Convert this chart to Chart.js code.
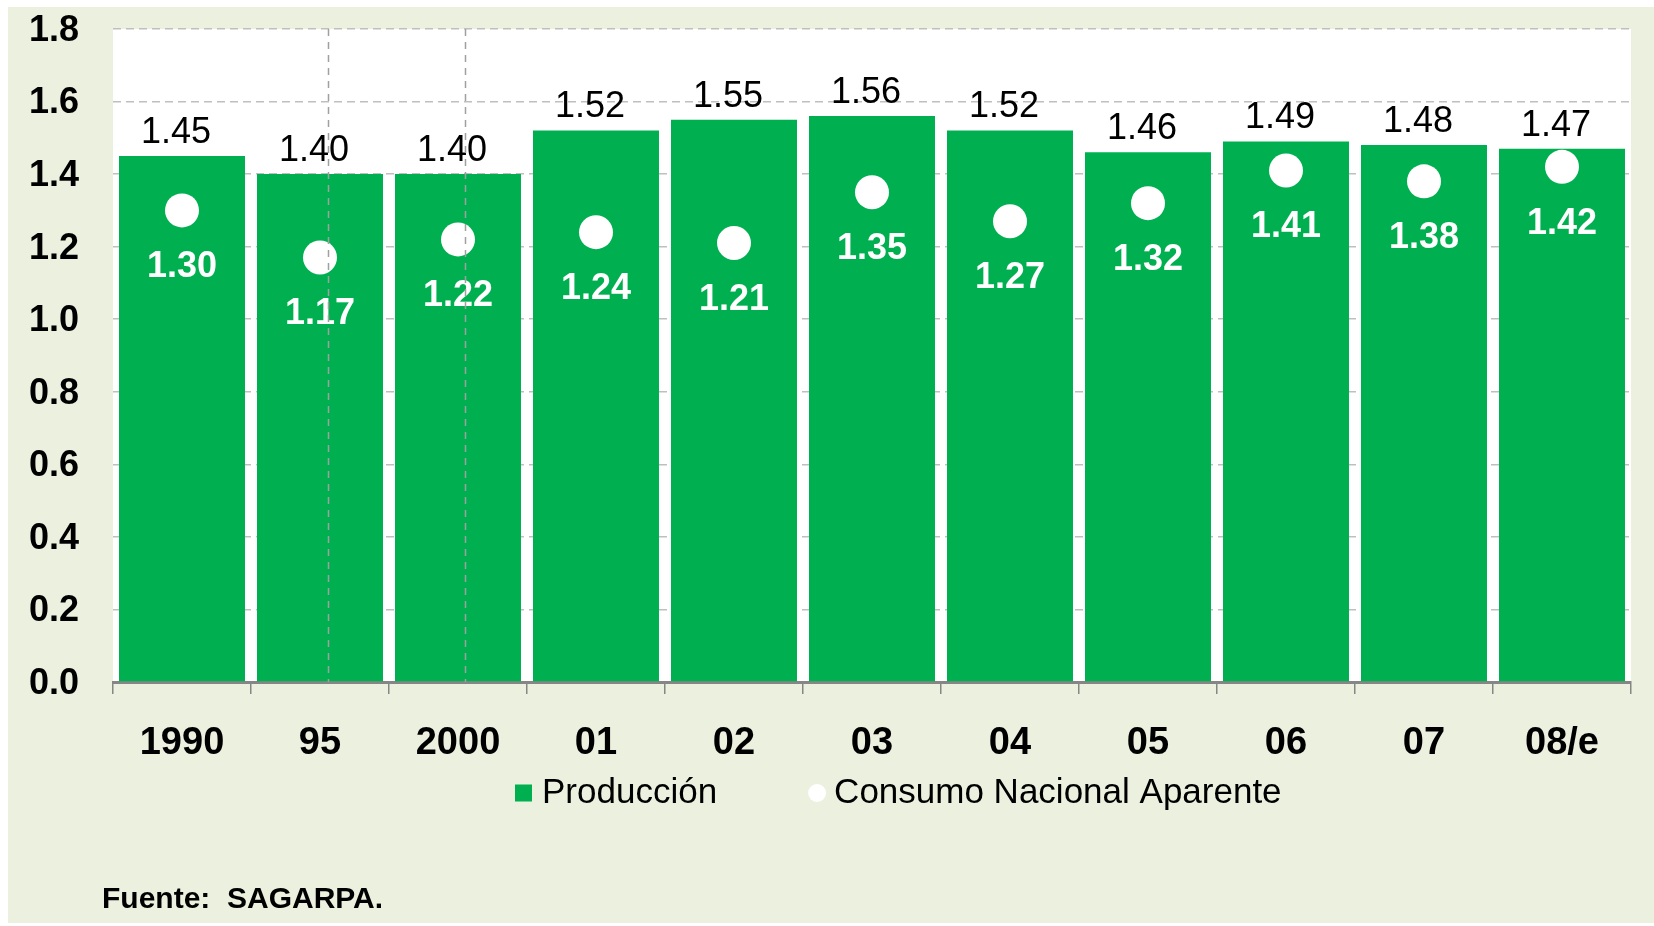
<!DOCTYPE html>
<html>
<head>
<meta charset="utf-8">
<script src="https://cdn.jsdelivr.net/npm/chart.js@4.4.0/dist/chart.umd.min.js"></script>
<style>
  html, body { margin: 0; padding: 0; background: #fff; }
  body { width: 1654px; height: 926px; position: relative; overflow: hidden; }
  #panel { position: absolute; left: 8px; top: 7px; right: 0; bottom: 3px; background: #EBF1DE; }
  #wrap { position: absolute; left: 0; top: 0; width: 1654px; height: 926px; }
  #fuente { position: absolute; left: 102px; top: 883px; font: bold 30px "Liberation Sans", Arial, sans-serif;
            line-height: 30px; white-space: pre; color: #000; }
</style>
</head>
<body>
<div id="panel"></div>
<div id="wrap"><canvas id="chart"></canvas></div>
<div id="fuente">Fuente:  SAGARPA.</div>
<script>
// Data
const years = ['1990', '95', '2000', '01', '02', '03', '04', '05', '06', '07', '08/e'];
const produccion = [1.45, 1.40, 1.40, 1.52, 1.55, 1.56, 1.52, 1.46, 1.49, 1.48, 1.47];
const consumo = [1.30, 1.17, 1.22, 1.24, 1.21, 1.35, 1.27, 1.32, 1.41, 1.38, 1.42];
const seriesNames = ['Producción', 'Consumo Nacional Aparente'];
const yMin = 0, yMax = 1.8, yStep = 0.2;
// dashed separators after 95 and 2000 (category index units)
const breaks = [1.06, 2.05];

const FONT = '"Liberation Sans", Arial, sans-serif';
const GREEN = '#00B050';

// white plot area, value labels, separators and legend
const decor = {
    id: 'decor',
    beforeDraw(chart) {
        const { ctx, chartArea: a } = chart;
        ctx.save();
        ctx.fillStyle = '#fff';
        ctx.fillRect(a.left, a.top, a.right - a.left, a.bottom - a.top);
        ctx.restore();
    },
    afterDatasetsDraw(chart) {
        const ctx = chart.ctx;
        ctx.save();
        ctx.textAlign = 'center';
        ctx.textBaseline = 'middle';
        ctx.font = '36px ' + FONT;
        ctx.fillStyle = '#000';
        chart.getDatasetMeta(0).data.forEach((bar, i) => {
            ctx.fillText(produccion[i].toFixed(2), bar.x - 6, bar.y - 23);
        });
        ctx.font = 'bold 36px ' + FONT;
        ctx.fillStyle = '#fff';
        chart.getDatasetMeta(1).data.forEach((pt, i) => {
            ctx.fillText(consumo[i].toFixed(2), pt.x, pt.y + 57);
        });
        ctx.restore();
    },
    afterDraw(chart) {
        const { ctx, chartArea: a } = chart;
        const xs = chart.scales.x;
        ctx.save();
        ctx.strokeStyle = '#A0A0A0';
        ctx.lineWidth = 1.5;
        ctx.setLineDash([7, 6]);
        breaks.forEach(v => {
            const px = Math.round(xs.getPixelForValue(v)) + 0.5;
            ctx.beginPath();
            ctx.moveTo(px, a.top);
            ctx.lineTo(px, a.bottom);
            ctx.stroke();
        });
        ctx.setLineDash([]);

        // legend
        const ly = 793;
        let lx = 515;
        ctx.font = '35px ' + FONT;
        ctx.textAlign = 'left';
        ctx.textBaseline = 'middle';
        chart.data.datasets.forEach((ds, i) => {
            if (i === 0) {
                ctx.fillStyle = GREEN;
                ctx.fillRect(lx, ly - 8.5, 17, 17);
                lx += 27;
            } else {
                ctx.fillStyle = '#fff';
                ctx.beginPath();
                ctx.arc(lx + 9, ly, 9, 0, Math.PI * 2);
                ctx.fill();
                lx += 26;
            }
            ctx.fillStyle = '#000';
            ctx.fillText(ds.label, lx, ly);
            lx += ctx.measureText(ds.label).width + 91;
        });
        ctx.restore();
    }
};

new Chart(document.getElementById('chart'), {
    type: 'bar',
    data: {
        labels: years,
        datasets: [{
            label: seriesNames[0],
            data: produccion,
            backgroundColor: GREEN,
            barPercentage: 0.913,
            categoryPercentage: 1,
            order: 1
        }, {
            type: 'line',
            label: seriesNames[1],
            data: consumo,
            showLine: false,
            pointRadius: 17,
            pointHoverRadius: 17,
            pointBackgroundColor: '#fff',
            pointBorderWidth: 0,
            order: 0
        }]
    },
    options: {
        responsive: true,
        maintainAspectRatio: false,
        animation: false,
        events: [],
        layout: { padding: { top: 29, right: 23, bottom: 163, left: 0 } },
        plugins: {
            legend: { display: false },
            tooltip: { enabled: false }
        },
        scales: {
            x: {
                offset: true,
                grid: { offset: true, drawOnChartArea: false, drawTicks: true, tickLength: 12, color: '#868686', lineWidth: 1.5 },
                border: { display: true, color: '#868686', width: 3 },
                ticks: { color: '#000', padding: 27, font: { family: FONT, size: 38, weight: 'bold' } },
                afterFit(s) { s.height = 81; }
            },
            y: {
                min: yMin,
                max: yMax,
                grid: { color: '#BFBFBF', lineWidth: 1.5, drawTicks: true, tickLength: 31, tickColor: 'transparent' },
                border: { display: false, dash: [8, 5] },
                ticks: {
                    stepSize: yStep,
                    padding: 3,
                    labelOffset: 2,
                    color: '#000',
                    font: { family: FONT, size: 36, weight: 'bold' },
                    callback: v => v.toFixed(1)
                },
                afterFit(s) { s.width = 113; }
            }
        }
    },
    plugins: [decor]
});
</script>
</body>
</html>
